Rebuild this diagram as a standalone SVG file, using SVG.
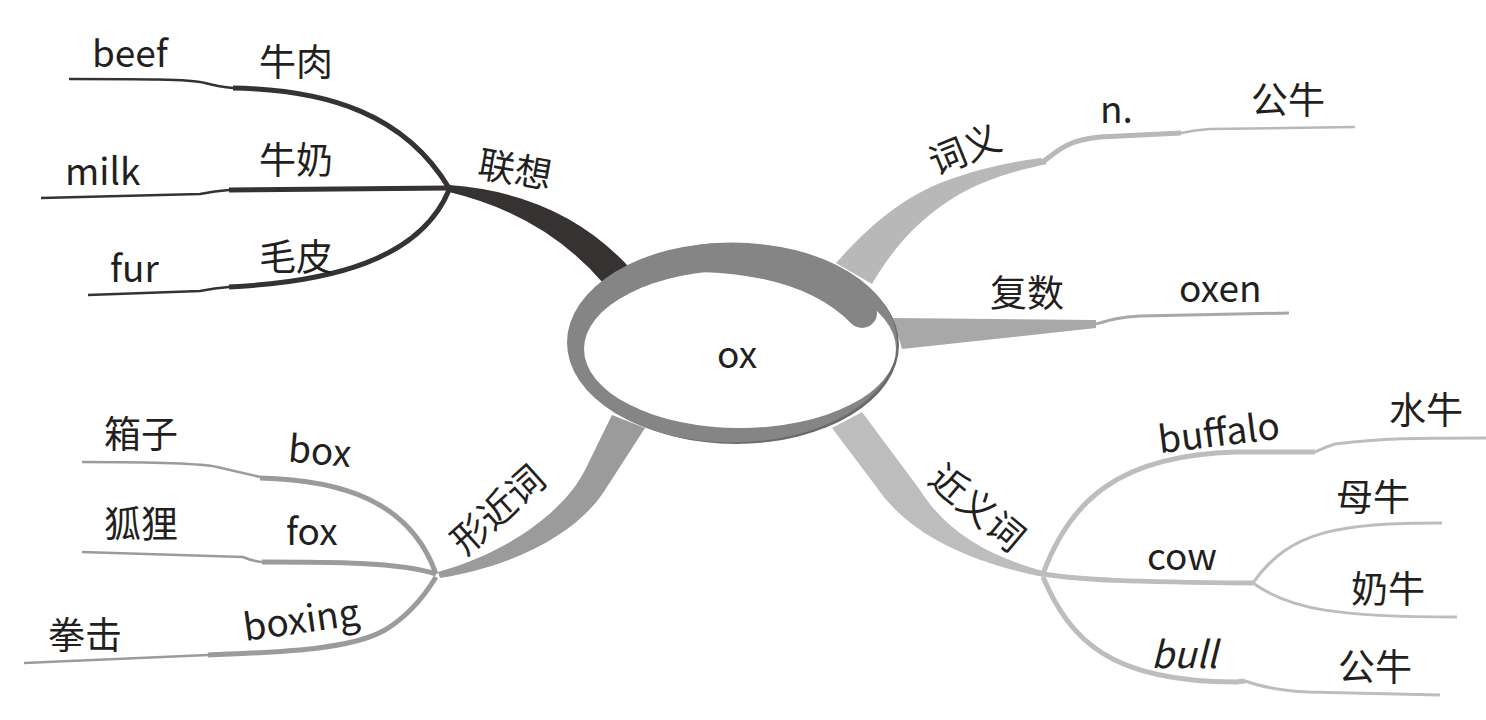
<svg xmlns="http://www.w3.org/2000/svg" width="1486" height="720" viewBox="0 0 1486 720">
<style>
text{font-family:"Noto Sans CJK SC","Noto Sans",sans-serif;font-size:37px;fill:#231f20}
.mid{text-anchor:middle}
.k{stroke:#363232;fill:none}
.kf{fill:#363232}
.g{stroke:#9b9b9b;fill:none}
.gf{fill:#9b9b9b}
.l{stroke:#bdbdbd;fill:none}
.lf{fill:#bdbdbd}
.w{stroke:#b8b8b8;fill:none}
.wf{fill:#b8b8b8}
.p{stroke:#a8a8a8;fill:none}
.pf{fill:#a8a8a8}
.t1{stroke-width:2.5}
.t2{stroke-width:5}
</style>
<defs>
<clipPath id="outer"><ellipse cx="732" cy="342.5" rx="165" ry="100"/></clipPath>
</defs>
<g id="connectors">
<!-- 联想 -->
<path class="kf" d="M449,185 Q560,193 628,266 L604,284 Q545,215 449,192 Z"/>
<path class="k t1" d="M69,79 C140,79 190,79 205,83 Q220,87 233,88"/>
<path class="k t2" d="M233,88 C330,90 405,115 449,188"/>
<path class="k t1" d="M41,198 L200,194 Q215,191 229,190"/>
<path class="k t2" d="M229,190 L449,188"/>
<path class="k t1" d="M88,295 L200,291 Q215,288 229,287"/>
<path class="k t2" d="M229,287 C330,282 420,260 449,190"/>
<!-- 词义 -->
<path class="wf" d="M836,263 C870,225 900,200 940,183 C980,168 1010,162 1041,158 L1047,164 C1010,172 985,180 958,195 C920,218 895,245 872,284 Z"/>
<path class="w t2" d="M1043,162 C1058,150 1068,140 1100,137 L1181,133"/>
<path class="w t1" d="M1181,133 Q1195,130 1210,129 L1355,127"/>
<!-- 复数 -->
<path class="pf" d="M893,318 L1096,320 L1096,328 L902,349 Z"/>
<path class="p" stroke-width="3" d="M1096,324 C1110,320 1120,317 1140,316 L1289,313"/>
<!-- 形近词 -->
<path class="gf" d="M438,572 C510,552 565,510 585,470 L612,415 L645,428 L605,490 C580,530 520,565 440,578 Z"/>
<path class="g t1" d="M82,462 C150,462 200,463 217,467 L260,477"/>
<path class="g t2" d="M260,478 C340,480 410,500 436,574"/>
<path class="g t1" d="M82,552 L243,557 Q252,561 262,562"/>
<path class="g t2" d="M262,562 C330,562 400,562 436,574"/>
<path class="g t1" d="M24,663 L208,655"/>
<path class="g t2" d="M208,655 C280,652 350,650 385,630 C410,615 425,595 436,577"/>
<!-- 近义词 -->
<path class="lf" d="M832,428 L875,485 C905,530 960,560 1043,577 L1043,571 C985,555 945,530 920,490 L862,412 Z"/>
<path class="l t2" d="M1043,574 C1070,500 1120,455 1236,452 L1315,452"/>
<path class="l" stroke-width="3" d="M1315,452 Q1325,447 1335,444 C1380,438 1420,438 1486,438"/>
<path class="l t2" d="M1043,574 C1080,580 1130,582 1253,583"/>
<path class="l" stroke-width="3" d="M1253,583 C1290,530 1340,523 1442,523"/>
<path class="l" stroke-width="3" d="M1253,583 C1290,610 1340,617 1457,617"/>
<path class="l t2" d="M1043,577 C1070,640 1110,682 1236,682 L1245,681"/>
<path class="l" stroke-width="3" d="M1245,681 Q1270,690 1308,692 L1440,695"/>
</g>
<g id="center">
<ellipse cx="736" cy="345" rx="163" ry="99" fill="#6a6a6a"/>
<ellipse cx="732" cy="342.5" rx="165" ry="100" fill="#858585"/>
<ellipse cx="740" cy="349" rx="156" ry="79" fill="#ffffff"/>
<path d="M700,257 Q810,260 862,313" stroke="#858585" stroke-width="30" fill="none" clip-path="url(#outer)"/>
<circle cx="862" cy="313" r="15" fill="#858585"/>
<text class="mid" x="737" y="368">ox</text>
</g>
<g id="n-lianxiang"><text class="mid" x="515" y="183" transform="rotate(10 515 170)">联想</text></g>
<g id="n-beef"><text x="92" y="67">beef</text></g>
<g id="n-niurou"><text x="259" y="76">牛肉</text></g>
<g id="n-milk"><text x="65" y="185">milk</text></g>
<g id="n-niunai"><text x="259" y="174">牛奶</text></g>
<g id="n-fur"><text x="110" y="282">fur</text></g>
<g id="n-maopi"><text x="259" y="271">毛皮</text></g>
<g id="n-ciyi"><text class="mid" x="965" y="163" transform="rotate(-22 965 150)">词义</text></g>
<g id="n-n"><text x="1100" y="123">n.</text></g>
<g id="n-gongniu1"><text x="1251" y="114">公牛</text></g>
<g id="n-fushu"><text x="990" y="307">复数</text></g>
<g id="n-oxen"><text x="1179" y="302">oxen</text></g>
<g id="n-xingjinci"><text class="mid" x="498" y="523" transform="rotate(-42 498 510)">形近词</text></g>
<g id="n-xiangzi"><text x="104" y="448">箱子</text></g>
<g id="n-box"><text x="288" y="464" transform="rotate(5 315 455)">box</text></g>
<g id="n-huli"><text x="104" y="538">狐狸</text></g>
<g id="n-fox"><text x="286" y="545">fox</text></g>
<g id="n-quanji"><text x="48" y="649">拳击</text></g>
<g id="n-boxing"><text class="mid" x="302" y="633" transform="rotate(-8 302 625)">boxing</text></g>
<g id="n-jinyici"><text class="mid" x="977" y="521" transform="rotate(40 977 508)">近义词</text></g>
<g id="n-buffalo"><text class="mid" x="1219" y="446" transform="rotate(-7 1219 434)">buffalo</text></g>
<g id="n-shuiniu"><text x="1389" y="424">水牛</text></g>
<g id="n-cow"><text x="1147" y="570">cow</text></g>
<g id="n-muniu"><text x="1336" y="511">母牛</text></g>
<g id="n-nainiu"><text x="1351" y="603">奶牛</text></g>
<g id="n-bull"><text x="1151" y="668" font-style="italic">bull</text></g>
<g id="n-gongniu2"><text x="1338" y="681">公牛</text></g>
</svg>
